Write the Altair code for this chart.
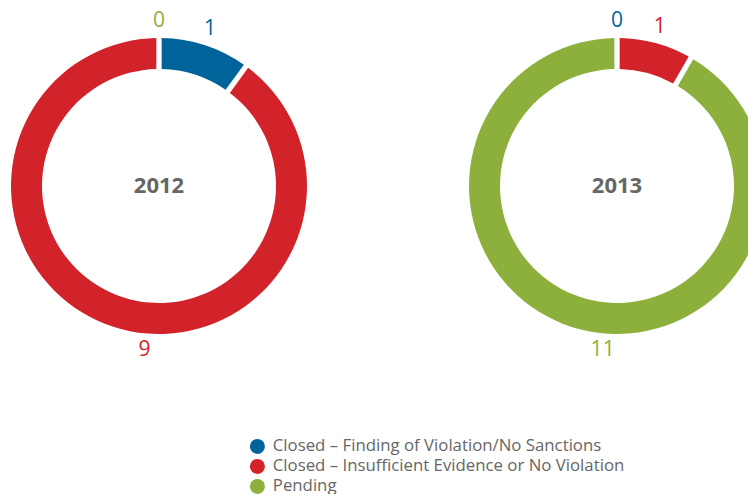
import altair as alt
import pandas as pd

years = ["2012", "2013"]
categories = [
    "Closed – Finding of Violation/No Sanctions",
    "Closed – Insufficient Evidence or No Violation",
    "Pending",
]
values_2012 = [1, 9, 0]
values_2013 = [0, 1, 11]
colors = ["#00649A", "#D2232A", "#8DB03C"]

rows = []
for yr, vals in zip(years, [values_2012, values_2013]):
    total = sum(vals)
    start = 0.0
    for i, (cat, v) in enumerate(zip(categories, vals)):
        end = start + v / total * 360
        mid = (start + end) / 2
        if v > total / 2:
            mid = 185  # majority segment labelled at the bottom
        rows.append({"year": yr, "category": cat, "order": i, "value": v, "label_angle": mid})
        start = end
df = pd.DataFrame(rows)

color_scale = alt.Scale(domain=categories, range=colors)
centers = {"2012": (151, 178), "2013": (609, 178)}  # donut centres (layout)


def donut_layers(yr):
    cx, cy = centers[yr]
    base = alt.Chart(df).transform_filter(alt.datum.year == yr)
    arcs = base.mark_arc(outerRadius=148, innerRadius=117, padAngle=0.028).encode(
        x=alt.value(cx),
        y=alt.value(cy),
        theta=alt.Theta("value:Q", stack=True),
        color=alt.Color(
            "category:N",
            scale=color_scale,
            sort=categories,
            legend=alt.Legend(title=None),
        ),
        order=alt.Order("order:Q"),
    )
    labels = base.mark_text(radius=165, fontSize=21, font="Open Sans").encode(
        x=alt.value(cx),
        y=alt.value(cy),
        theta=alt.Theta("label_angle:Q", stack=None, scale=alt.Scale(domain=[0, 360], range=[0, 6.283185307])),
        text=alt.Text("value:Q"),
        color=alt.Color("category:N", scale=color_scale, legend=None),
    )
    center = alt.Chart(pd.DataFrame({"year": [yr]})).mark_text(
        fontSize=22, fontWeight="bold", color="#666666", font="Open Sans"
    ).encode(x=alt.value(cx), y=alt.value(cy), text="year:N")
    return [arcs, labels, center]


chart = (
    alt.layer(*donut_layers("2012"), *donut_layers("2013"))
    .resolve_scale(theta="independent")
    .properties(width=740, height=486, padding=0, autosize=alt.AutoSizeParams(type="none"))
    .configure_view(stroke=None)
    .configure_legend(
        orient="none",
        legendX=241,
        legendY=430,
        symbolType="circle",
        symbolSize=225,
        labelFontSize=16.8,
        labelFont="Open Sans",
        labelColor="#666666",
        labelOffset=7,
        rowPadding=2,
        symbolStrokeWidth=0,
        labelLimit=500,
    )
)

chart.save("out.html", embed_options={"renderer": "svg", "actions": False})
